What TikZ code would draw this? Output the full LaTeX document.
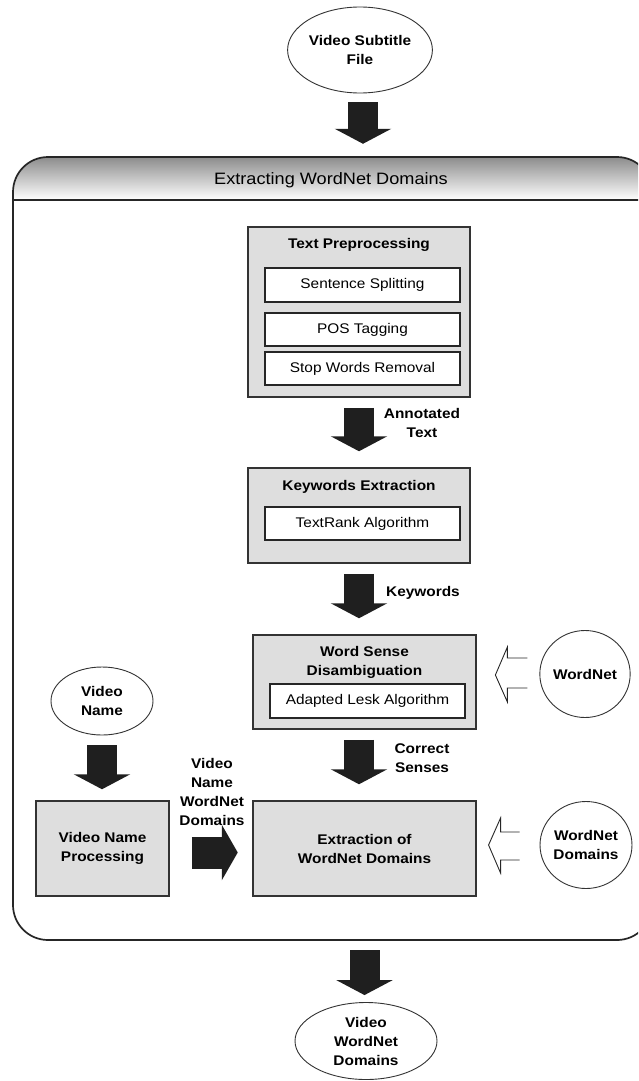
\documentclass[tikz,border=0pt]{standalone}
\usepackage{fontspec}
\setmainfont{Liberation Sans}[FakeStretch=1.1]
\usetikzlibrary{arrows.meta,calc,shapes.geometric}
\tikzset{
  every node/.style={align=center},
  boldtxt/.style={font=\bfseries\fontsize{14}{19}\selectfont, inner sep=0pt},
  plaintxt/.style={font=\fontsize{14}{19}\selectfont},
  outerbox/.style={draw=black!80, line width=1.5pt, fill=black!13, inner sep=0pt},
  innerbox/.style={draw=black!85, line width=1.4pt, fill=white, inner sep=0pt, minimum width=195pt, font=\fontsize{14}{19}\selectfont},
  oval/.style={ellipse, draw=black!80, line width=0.9pt, fill=white, inner sep=0pt, font=\bfseries\fontsize{14}{19}\selectfont},
  bigarrow/.style={line width=30pt, draw=black!88, -{Triangle[length=15pt,width=56pt]}},
  hollow/.style={draw=black!85, line width=0.9pt, fill=white, line join=miter},
}
\begin{document}
\begin{tikzpicture}[x=1pt,y=-1pt]
\useasboundingbox (0,0) rectangle (638,1081);
\clip (0,0) rectangle (638,1081);
\fill[white] (0,0) rectangle (638,1081);

% container
\begin{scope}
  \clip[rounded corners=35pt] (13,157) rectangle (652,940);
  \shade[top color=black!45, bottom color=white] (0,157) rectangle (652,200);
\end{scope}
\draw[line width=1.7pt, black!85, rounded corners=35pt] (13,157) rectangle (652,940);
\draw[line width=1.7pt, black!85] (13,200) -- (652,200);
\node[font=\fontsize{16.5}{19}\selectfont] (title) at (331,180) {Extracting WordNet Domains};

% top input
\node[oval, minimum width=120pt, minimum height=86pt] (vsf) at (360,50) {Video Subtitle\\File};

% text preprocessing
\node[outerbox, minimum width=222pt, minimum height=170pt] (tp) at (359,312) {};
\node[boldtxt] (tpt) at ($(tp.north)+(0,19)$) {Text Preprocessing};
\node[innerbox, minimum height=34pt] (ss) at (362.5,285) {Sentence Splitting};
\node[innerbox, minimum height=33pt] (pos) at (362.5,329.5) {POS Tagging};
\node[innerbox, minimum height=33pt] (sw) at (362.5,368.5) {Stop Words Removal};

% keywords extraction
\node[outerbox, minimum width=222pt, minimum height=95pt] (ke) at (359,515.5) {};
\node[boldtxt] (ket) at (359,487) {Keywords Extraction};
\node[innerbox, minimum height=33pt] (tr) at (362.5,523.5) {TextRank Algorithm};

% WSD
\node[outerbox, minimum width=223pt, minimum height=94pt] (wsd) at (364.5,682) {};
\node[boldtxt] (wsdt) at (364.5,662.5) {Word Sense\\Disambiguation};
\node[innerbox, minimum height=34pt] (lesk) at (367.5,701) {Adapted Lesk Algorithm};

% extraction
\node[outerbox, minimum width=223pt, minimum height=95pt, font=\bfseries\fontsize{14}{19}\selectfont] (ex) at (364.5,848.5) {Extraction of\\WordNet Domains};

% video name
\node[oval, minimum width=102pt, minimum height=68pt] (vn) at (102,701) {Video\\Name};
\node[outerbox, minimum width=133pt, minimum height=95pt, font=\bfseries\fontsize{14}{19}\selectfont] (vnp) at (102.5,848.5) {Video Name\\Processing};

% resources
\node[oval, minimum width=88pt, minimum height=87pt] (wn) at (585,674) {WordNet};
\node[oval, minimum width=88pt, minimum height=87pt] (wnd) at (586,845) {WordNet\\Domains};

% output
\node[oval, minimum width=142pt, minimum height=77pt] (vwd) at (366,1041) {Video\\WordNet\\Domains};

% block arrows
\draw[bigarrow] ($(vsf.south)+(3,9)$) -- ($(title.north)+(32,-25)$);
\draw[bigarrow] ($(tp.south)+(0,10)$) -- ($(ke.north)+(0,-16)$);
\draw[bigarrow] ($(ke.south)+(0,10)$) -- ($(wsd.north)+(-5.5,-16)$);
\draw[bigarrow] ($(wsd.south)+(-5.5,10)$) -- ($(ex.north)+(-5.5,-16)$);
\draw[bigarrow] ($(vn.south)+(0,10)$) -- ($(vnp.north)+(-0.5,-11)$);
\draw[line width=32pt, draw=black!88, -{Triangle[length=16pt,width=55pt]}] ($(vnp.east)+(22,4)$) -- ($(ex.west)+(-14.5,4)$);
\draw[bigarrow] (364.5,950) -- ($(vwd.north)+(-1.5,-7)$);

% labels
\node[boldtxt] (l1) at (422,423) {Annotated\\Text};
\node[boldtxt] (l2) at (423,593) {Keywords};
\node[boldtxt] (l3) at (422,758) {Correct\\Senses};
\node[boldtxt] (l4) at (212,791.5) {Video\\Name\\WordNet\\Domains};

% hollow arrows
\draw[hollow] ($(wn.west)+(-12,-16)$) -- ++(-20,0) -- ++(0,-11) -- ++(-12,28) -- ++(12,27) -- ++(0,-14) -- ++(20,0);
\draw[hollow] ($(wnd.west)+(-20,-13)$) -- ++(-19,0) -- ++(0,-14) -- ++(-12,27) -- ++(12,28) -- ++(0,-13) -- ++(19,0);
\end{tikzpicture}
\end{document}
